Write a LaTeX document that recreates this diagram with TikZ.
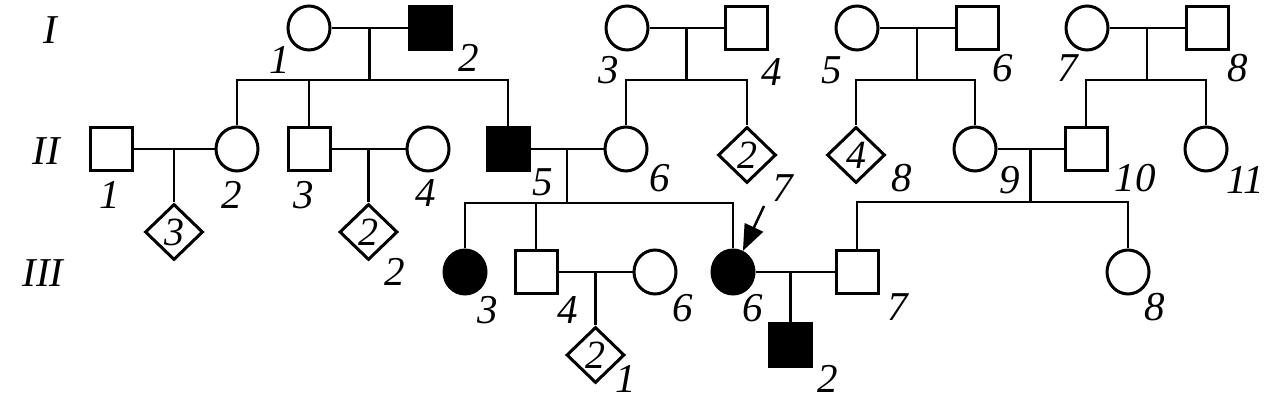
\documentclass[tikz,border=0pt]{standalone}
\usepackage{fontspec}
\setmainfont{Liberation Serif}
\usetikzlibrary{shapes.geometric,arrows.meta}
\tikzset{
  person/.style={draw,line width=1.5pt,inner sep=0pt},
  male/.style={person,rectangle,minimum width=21pt,minimum height=21.5pt},
  female/.style={person,ellipse,minimum width=21pt,minimum height=22pt},
  unknown/.style={person,diamond,aspect=1,minimum width=29pt,minimum height=28pt,
    font=\fontsize{20}{20}\selectfont\itshape},
  ill/.style={fill=black},
  num/.style={font=\fontsize{20.5}{20.5}\selectfont\itshape,inner sep=0pt},
  gen/.style={font=\fontsize{20.5}{20.5}\selectfont\itshape,inner sep=0pt},
  rel/.style={line width=1.25pt},
}
\begin{document}
\begin{tikzpicture}[x=0.5pt,y=-0.5pt]
  \useasboundingbox (0,0) rectangle (1267,400);
  % generations
  \node[gen] (gI) at (50,30) {I};
  \node[gen] (gII) at (46,151) {II};
  \node[gen] (gIII) at (43,273) {III};

  % generation I
  \node[female] (I1) at (309,28) {};
  \node[male,ill] (I2) at (430,28) {};
  \node[female] (I3) at (627,28) {};
  \node[male] (I4) at (746,28) {};
  \node[female] (I5) at (857,28) {};
  \node[male] (I6) at (977,28) {};
  \node[female] (I7) at (1087,28) {};
  \node[male] (I8) at (1207,28) {};

  % generation II
  \node[male] (II1) at (111,149) {};
  \node[female] (II2) at (237,149) {};
  \node[male] (II3) at (309,149) {};
  \node[female] (II4) at (428,149) {};
  \node[male,ill] (II5) at (508,149) {};
  \node[female] (II6) at (626,149) {};
  \node[unknown] (II7) at (747,155) {2};
  \node[unknown] (II8) at (856,155) {4};
  \node[female] (II9) at (975,149) {};
  \node[male] (II10) at (1086,149) {};
  \node[female] (II11) at (1206,149) {};

  % generation III
  \node[female,ill] (III3) at (465,272) {};
  \node[male] (III4) at (536,272) {};
  \node[female] (III5) at (655,272) {};
  \node[female,ill] (III6) at (733,272) {};
  \node[male] (III7) at (857,272) {};
  \node[female] (III8) at (1128,272) {};

  % marriages and sibships
  \draw[rel] (I1) -- coordinate (mI12) (I2);
  \draw[rel] (mI12) -- ++(0,52) coordinate (sI12);
  \draw[rel] (II2) |- (sI12) -| (II5);
  \draw[rel] (II3) -- (II3 |- sI12);

  \draw[rel] (I3) -- coordinate (mI34) (I4);
  \draw[rel] (mI34) -- ++(0,52) coordinate (sI34);
  \draw[rel] (II6) |- (sI34) -| (II7);

  \draw[rel] (I5) -- coordinate (mI56) (I6);
  \draw[rel] (mI56) -- ++(0,52) coordinate (sI56);
  \draw[rel] (II8) |- (sI56) -| (II9);

  \draw[rel] (I7) -- coordinate (mI78) (I8);
  \draw[rel] (mI78) -- ++(0,52) coordinate (sI78);
  \draw[rel] (II10) |- (sI78) -| (II11);

  \draw[rel] (II1) -- coordinate (mII12) (II2);
  \node[unknown] (III1) at (mII12 |- 0,232) {3};
  \draw[rel] (mII12) -- (III1);

  \draw[rel] (II3) -- coordinate (mII34) (II4);
  \node[unknown] (III2) at (mII34 |- 0,232) {2};
  \draw[rel] (mII34) -- (III2);

  \draw[rel] (II5) -- coordinate (mII56) (II6);
  \draw[rel] (mII56) -- ++(0,54) coordinate (sII56);
  \draw[rel] (III3) |- (sII56) -| (III6);
  \draw[rel] (III4) -- (III4 |- sII56);

  \draw[rel] (II9) -- coordinate (mII910) (II10);
  \draw[rel] (mII910) -- ++(0,53) coordinate (sII910);
  \draw[rel] (III7) |- (sII910) -| (III8);

  \draw[rel] (III4) -- coordinate (mIII45) (III5);
  \node[unknown] (IV1) at (mIII45 |- 0,355) {2};
  \draw[rel] (mIII45) -- (IV1);

  \draw[rel] (III6) -- coordinate[pos=.44] (mIII67) (III7);
  \node[male,ill] (IV2) at (mIII67 |- 0,345) {};
  \draw[rel] (mIII67) -- (IV2);

  % proband
  \coordinate (pr) at (764,206);
  \draw[rel,-{Triangle[length=13pt,width=10pt]}] (pr) -- (III6);

  % numbers
  \foreach \t/\x/\y [count=\i] in {1/280/60, 2/469/58, 3/609/70, 4/772/72,
      5/832/70, 6/1003/68, 7/1068/68, 8/1238/68,
      1/110/195, 2/232/195, 3/304/195, 4/426/193, 5/543/182, 6/660/178,
      7/783/188, 8/902/178, 9/1010/180, 10/1135/178, 11/1245/180,
      2/395/272, 3/488/310, 4/568/310, 6/683/308, 6/753/308, 7/898/307,
      8/1155/307, 1/626/379, 2/828/379}
    \node[num] (n\i) at (\x,\y) {\t};
\end{tikzpicture}
\end{document}
